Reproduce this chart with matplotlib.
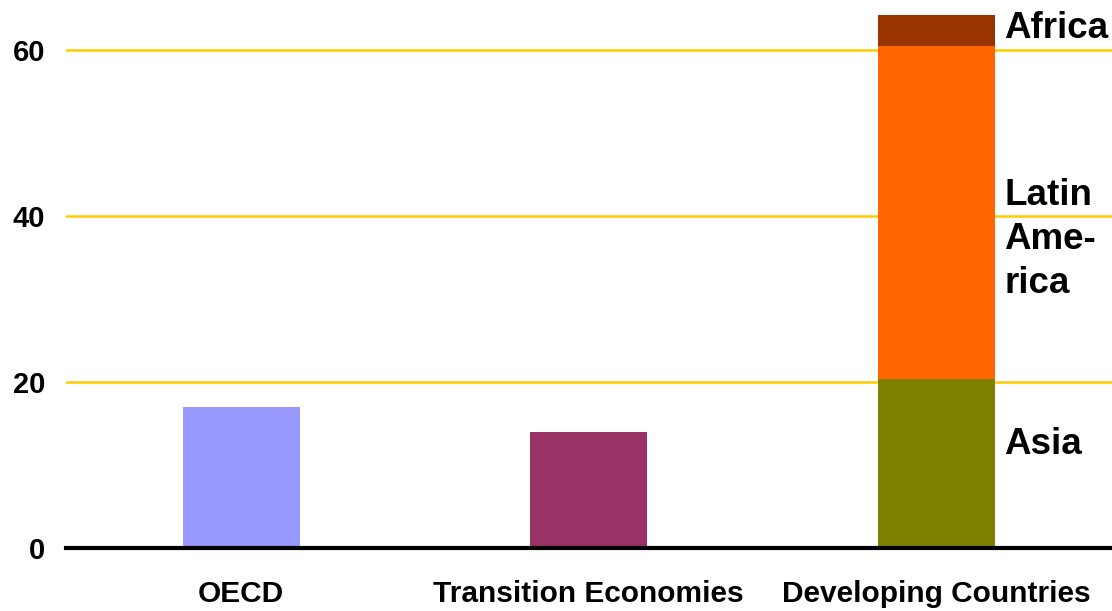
import numpy as np
from matplotlib import pyplot as plt

plt.rcParams['font.family'] = ['Liberation Sans', 'DejaVu Sans']
plt.rcParams['font.weight'] = 'bold'

# values
regions = ['OECD', 'Transition Economies', 'Developing Countries']
oecd_value = 17
transition_value = 14
developing_parts = ['Asia', 'Latin\nAme-\nrica', 'Africa']
developing_values = [20.4, 40.1, 3.7]
developing_colors = ['#808000', '#FF6600', '#993300']
label_y = [12.5, 37.2, 62.6]

fig = plt.figure(figsize=(11.12, 6.11), dpi=100)
ax = fig.add_axes([0.0594, 0.103, 0.9406, 0.897])

width = 0.337
x = np.arange(len(regions))

ax.bar(x[0], oecd_value, width, color='#9999FF', zorder=3)
ax.bar(x[1], transition_value, width, color='#993366', zorder=3)

bottom = 0
for name, val, col, ly in zip(developing_parts, developing_values, developing_colors, label_y):
    ax.bar(x[2], val, width, bottom=bottom, color=col, zorder=3)
    ax.text(x[2] + width / 2 + 0.027, ly, name,
            fontsize=26.5, fontweight='bold', va='center', ha='left',
            linespacing=1.33, zorder=4)
    bottom += val

ax.set_xlim(-0.504, 2.506)
ax.set_ylim(0, 66)
ax.set_yticks([0, 20, 40, 60])
ax.set_xticks(x)
ax.set_xticklabels(regions)
ax.tick_params(axis='x', length=0, pad=23, labelsize=21.5)
ax.tick_params(axis='y', length=0, pad=15, labelsize=21)

ax.yaxis.grid(True, color='#FFCC00', linewidth=1.8, zorder=1)
for side in ['top', 'right', 'left']:
    ax.spines[side].set_visible(False)
ax.spines['bottom'].set_linewidth(3)
ax.spines['bottom'].set_zorder(5)

fig.savefig('out.png', dpi=100)
